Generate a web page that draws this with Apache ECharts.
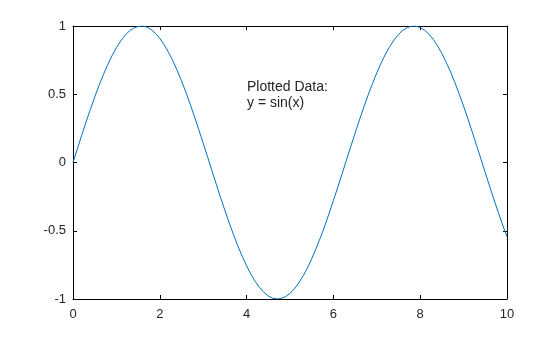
<!DOCTYPE html>
<html><head><meta charset="utf-8">
<script src="https://cdn.jsdelivr.net/npm/echarts@6/dist/echarts.min.js"></script>
<style>html,body{margin:0;padding:0;background:#fff}#c{width:560px;height:337px}</style>
</head><body><div id="c"></div>
<script>
var xValues = [0.0,0.1,0.2,0.3,0.4,0.5,0.6,0.7,0.8,0.9,1.0,1.1,1.2,1.3,1.4,1.5,1.6,1.7,1.8,1.9,2.0,2.1,2.2,2.3,2.4,2.5,2.6,2.7,2.8,2.9,3.0,3.1,3.2,3.3,3.4,3.5,3.6,3.7,3.8,3.9,4.0,4.1,4.2,4.3,4.4,4.5,4.6,4.7,4.8,4.9,5.0,5.1,5.2,5.3,5.4,5.5,5.6,5.7,5.8,5.9,6.0,6.1,6.2,6.3,6.4,6.5,6.6,6.7,6.8,6.9,7.0,7.1,7.2,7.3,7.4,7.5,7.6,7.7,7.8,7.9,8.0,8.1,8.2,8.3,8.4,8.5,8.6,8.7,8.8,8.9,9.0,9.1,9.2,9.3,9.4,9.5,9.6,9.7,9.8,9.9,10.0];
var yValues = [0.000,0.100,0.199,0.296,0.389,0.479,0.565,0.644,0.717,0.783,0.841,0.891,0.932,0.964,0.985,0.997,1.000,0.992,0.974,0.946,0.909,0.863,0.808,0.746,0.675,0.598,0.516,0.427,0.335,0.239,0.141,0.042,-0.058,-0.158,-0.256,-0.351,-0.443,-0.530,-0.612,-0.688,-0.757,-0.818,-0.872,-0.916,-0.952,-0.978,-0.994,-1.000,-0.996,-0.982,-0.959,-0.926,-0.883,-0.832,-0.773,-0.706,-0.631,-0.551,-0.465,-0.374,-0.279,-0.182,-0.083,0.017,0.117,0.215,0.312,0.405,0.494,0.578,0.657,0.729,0.794,0.850,0.899,0.938,0.968,0.988,0.999,0.999,0.989,0.970,0.941,0.902,0.855,0.798,0.734,0.663,0.585,0.501,0.412,0.319,0.223,0.124,0.025,-0.075,-0.174,-0.272,-0.366,-0.458,-0.544];
var annotationLines = ['Plotted Data:', 'y = sin(x)'];

var chart = echarts.init(document.getElementById('c'), null, {renderer: 'canvas'});
var font = 'Liberation Sans, Arial, sans-serif';
var lineStyle = {color: '#000', width: 1};
function axisBase(extra) {
  var a = {
    type: 'value',
    axisLine: {show: true, onZero: false, lineStyle: lineStyle},
    axisTick: {show: true, inside: true, length: 4, lineStyle: lineStyle},
    splitLine: {show: false},
    axisLabel: {show: false}
  };
  for (var k in extra) a[k] = extra[k];
  return a;
}
var data = xValues.map(function (x, i) { return [x, yValues[i]]; });
chart.setOption({
  animation: false,
  backgroundColor: '#fff',
  grid: {left: 73, right: 53, top: 26, bottom: 38, containLabel: false},
  xAxis: [
    axisBase({min: 0, max: 10, interval: 2, position: 'bottom',
      axisLabel: {show: true, color: '#262626', fontFamily: font, fontSize: 13, margin: 9}}),
    axisBase({min: 0, max: 10, interval: 2, position: 'top'})
  ],
  yAxis: [
    axisBase({min: -1, max: 1, interval: 0.5, position: 'left',
      axisLabel: {show: true, color: '#262626', fontFamily: font, fontSize: 13, margin: 7}}),
    axisBase({min: -1, max: 1, interval: 0.5, position: 'right'})
  ],
  graphic: [{
    type: 'text', left: 247, top: 79,
    style: {text: annotationLines.join('\n'), fill: '#262626', font: '14px ' + font, lineHeight: 16}
  }],
  series: [{
    type: 'line', data: data, showSymbol: false, xAxisIndex: 0, yAxisIndex: 0,
    lineStyle: {color: '#0072BD', width: 1}
  }]
});
</script></body></html>
